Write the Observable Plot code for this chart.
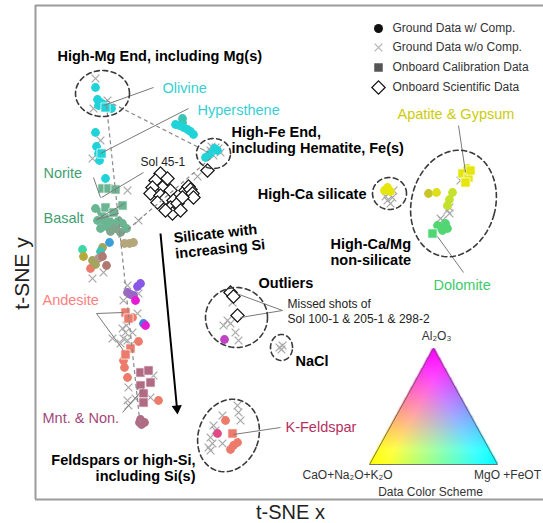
<!DOCTYPE html>
<html>
<head>
<meta charset="utf-8">
<script src="https://cdn.jsdelivr.net/npm/d3@7"></script>
<script src="https://cdn.jsdelivr.net/npm/@observablehq/plot@0.6"></script>
<style>
  html, body { margin: 0; padding: 0; background: #fff; }
  #chart { width: 543px; height: 523px; }
</style>
</head>
<body>
<div id="chart"></div>
<script>
// ---------------- DATA (t-SNE units) ----------------
// Ground data with composition: [tsneX, tsneY, compositionClass]
const groundComp = [
  // High-Mg end / olivine
  [9.5,-8.7,"cy"],[9.7,-9.9,"cy"],[10.0,-10.2,"cy"],[10.3,-10.4,"cy"],[9.8,-10.5,"cy"],[11.1,-10.8,"cy"],
  [9.5,-13.2,"cy"],[9.6,-14.6,"cy"],[9.8,-15.3,"cy"],[9.9,-16.0,"cy"],[10.5,-17.8,"cy"],
  // Hypersthene
  [18.2,-11.8,"tl"],[18.2,-12.2,"tl"],[17.5,-12.4,"cy"],[17.9,-12.5,"cy"],[18.3,-12.7,"cy"],
  [18.7,-12.9,"cy"],[19.0,-13.1,"cy"],[19.3,-13.4,"cy"],
  // High-Fe end
  [20.5,-15.7,"cy"],[20.9,-15.4,"cy"],[21.7,-15.0,"cy"],[21.4,-14.8,"cy"],
  // Norite / Basalt
  [9.5,-20.8,"gr"],[10.1,-21.2,"gr"],[9.7,-22.0,"gr"],[10.3,-22.0,"gr"],[10.8,-21.8,"gr"],
  [11.2,-22.3,"gr"],[11.8,-22.0,"gr"],[12.2,-22.3,"gr"],[11.5,-22.8,"gg"],[12.0,-23.2,"gg"],
  [12.6,-22.8,"gr"],[10.0,-22.8,"gr"],[10.6,-22.6,"gr"],[11.0,-23.1,"gg"],
  [10.9,-24.2,"bl"],[12.4,-24.3,"kh"],[12.9,-24.3,"kh"],[13.3,-24.2,"kh"],[10.2,-24.7,"ol"],
  [8.2,-24.9,"mi"],[8.3,-25.6,"yo2"],[10.0,-25.1,"tl"],[9.2,-26.0,"ol"],[9.8,-25.8,"pk"],
  [10.2,-25.6,"br"],[10.6,-26.5,"br"],[9.0,-26.8,"sa"],[9.5,-26.4,"ol"],
  // Silicates with increasing Si (purple group)
  [14.0,-28.3,"vi"],[13.7,-28.6,"vi"],[12.7,-29.2,"pu"],[13.0,-29.4,"pu"],[13.3,-29.5,"pu"],[13.5,-30.0,"mg"],
  [14.3,-32.3,"bl2"],[14.5,-32.5,"mg"],
  // Andesite
  [13.2,-31.7,"sa"],[13.8,-34.1,"sa"],[12.3,-36.0,"sa"],[12.4,-36.7,"sa"],[12.7,-37.7,"sa"],[15.8,-40.0,"sa"],
  // Montmorillonite & Nontronite
  [14.0,-41.9,"mv"],[14.4,-42.2,"mv"],[14.1,-42.4,"mv"],[13.9,-42.2,"mv"],
  // K-Feldspar
  [22.5,-42.0,"sa"],[21.7,-43.3,"rp"],[23.3,-44.5,"sa"],[23.7,-44.2,"sa"],[23.0,-44.9,"sa"],
  // Outliers
  [22.4,-33.9,"pu2"],
  // High-Ca silicate
  [38.7,-18.7,"ye"],[38.4,-19.0,"ye"],[39.0,-19.1,"ye"],
  // Apatite & Gypsum
  [46.7,-16.8,"ye"],[42.8,-19.3,"yo"],[43.6,-19.2,"ye2"],[45.2,-19.2,"li"],[44.9,-19.9,"li"],[44.7,-20.5,"li"],
  // Dolomite
  [43.7,-22.5,"dg"],[44.5,-22.3,"dg"],[44.2,-23.0,"dg"],[44.7,-22.8,"dg"],[44.0,-22.7,"dg"]
];

// Ground data without composition: [tsneX, tsneY]
const groundNoComp = [
  [9.5,-7.8],[9.3,-10.8],[10.7,-10.0],[10.0,-14.0],[9.2,-15.8],
  [12.7,-19.0],[13.8,-22.0],[19.7,-17.6],
  [21.0,-15.0],[21.5,-14.7],[22.0,-15.2],[20.7,-15.3],[21.3,-15.5],[21.8,-14.8],[21.1,-14.6],
  [9.2,-27.8],[10.3,-27.2],
  [12.7,-28.5],[13.8,-29.3],[12.3,-30.0],
  [13.7,-31.3],[12.2,-32.8],[12.5,-33.2],[13.2,-33.2],[12.3,-33.8],[11.2,-33.8],[12.7,-34.0],
  [12.6,-32.5],[13.0,-34.5],[12.0,-34.3],
  [12.8,-38.7],[13.5,-39.8],[12.8,-40.5],[15.3,-37.5],[15.0,-39.7],[12.7,-40.0],
  [23.7,-40.5],[23.8,-41.2],[22.2,-41.5],[21.3,-42.5],[24.0,-42.0],[21.0,-43.7],[21.2,-44.3],
  [21.0,-45.0],[22.2,-44.3],[21.5,-43.0],[20.8,-44.7],
  [23.2,-30.2],[22.3,-32.5],[23.0,-32.3],[23.5,-33.2],[23.8,-34.0],[22.7,-32.0],
  [27.9,-34.7],[28.2,-34.5],[28.1,-34.9],
  [38.8,-19.3],[39.2,-19.7],[38.7,-20.0],[39.0,-20.3],[38.5,-19.6],[39.3,-19.0],
  [46.0,-18.0],[44.9,-20.7],[44.7,-21.0],[44.2,-22.0],[44.0,-21.8],[44.9,-21.3]
];

// Onboard calibration data: [tsneX, tsneY, compositionClass]
const onboardCalib = [
  [10.5,-10.7,"cy"],[10.1,-15.3,"cy"],
  [10.2,-18.8,"gr"],[10.8,-18.8,"gr"],[11.5,-18.9,"gr"],[12.2,-20.5,"gr"],[10.5,-20.7,"gr"],[11.3,-21.2,"gr"],
  [12.5,-31.2,"sa"],[12.8,-31.8,"sa"],[13.0,-34.8,"sa"],[12.5,-35.4,"sa"],
  [14.0,-37.2,"mv"],[14.8,-37.0,"mv"],[14.0,-38.5,"mv"],[15.0,-38.2,"mv"],[14.3,-39.3,"mv"],[14.3,-40.2,"mv"],
  [23.2,-43.3,"sa"],
  [46.2,-17.3,"ye"],[46.8,-17.7,"ye"],[46.5,-18.2,"ye"],[47.0,-17.0,"ye"],
  [43.2,-23.3,"dg"]
];

// Onboard scientific data: [tsneX, tsneY]
const onboardSci = [
  [16.0,-17.3],[15.5,-18.0],[16.7,-17.8],[16.2,-18.7],[15.2,-18.7],[15.0,-19.3],[16.0,-19.5],
  [17.0,-19.0],[16.5,-19.8],[17.3,-20.0],[15.7,-20.2],[17.0,-20.7],[17.7,-20.3],[18.5,-19.0],
  [18.8,-18.6],[19.0,-18.9],[19.2,-19.3],[19.3,-19.7],[18.2,-19.7],[17.2,-21.3],[16.5,-21.0],[18.0,-21.0],
  [20.7,-17.0],
  [23.0,-29.2],[23.3,-29.6],[23.7,-31.5]
];

// Group outlines: [cx, cy, rx, ry, tiltDeg]
const groupOutlines = [
  [10.2,-9.3,2.7,2.3,0], [21.3,-15.3,1.7,1.5,0], [38.9,-19.3,1.7,1.6,0],
  [45.3,-20.3,4.2,5.4,-15], [22.8,-43.5,3.0,3.7,-20], [23.6,-31.7,3.1,3.0,0], [28.1,-34.7,1.1,1.3,0]
];

// Trend guides (dashed) and leader lines: [x1, y1, x2, y2]
const trendGuides = [[10.6,-10.0,20.8,-15.2],[10.6,-10.5,14.0,-42.8],[21.0,-15.8,11.8,-23.7]];
const leaders = [
  [15.3,-8.7,10.3,-10.5],[18.8,-10.8,10.0,-15.3],[14.3,-17.2,10.1,-19.7],[9.3,-17.7,10.0,-19.7],
  [9.6,-21.9,12.4,-20.3],[9.6,-21.9,11.8,-21.3],[9.6,-31.3,12.3,-31.2],[9.6,-31.3,12.3,-35.0],
  [12.2,-41.2,14.3,-38.8],[28.0,-42.7,23.3,-43.4],[45.8,-12.5,46.5,-17.2],[46.3,-27.2,43.7,-23.6],
  [28.2,-31.0,23.6,-29.3],[28.2,-31.0,24.0,-31.7]
];
const siArrow = [[16.0,-23.3,17.65,-40.8]];

// Text
const mineralLabels = [
  ["Olivine",16.2,-8.8,"cyT"],["Hypersthene",19.7,-11.0,"cyT"],["Norite",4.3,-17.3,"grT"],
  ["Basalt",4.3,-21.8,"grT"],["Andesite",4.2,-30.0,"saT"],["Mnt. & Non.",4.2,-41.8,"mvT"],
  ["K-Feldspar",28.5,-42.7,"kfT"],["Apatite & Gypsum",39.7,-11.4,"yeT"],["Dolomite",43.3,-28.5,"dgT"]
];
const groupLabels = [
  ["High-Mg End, including Mg(s)",5.7,-5.5,"start"],
  ["High-Fe End,\nincluding Hematite, Fe(s)",23.1,-13.95,"start"],
  ["High-Ca silicate",36.6,-19.3,"end"],
  ["High-Ca/Mg\nnon-silicate",33.0,-25.1,"start"],
  ["Outliers",25.8,-28.2,"start"],
  ["NaCl",29.5,-36.0,"start"],
  ["Feldspars or high-Si,\nincluding Si(s)",19.5,-46.7,"end"]
];
const trendLabel = [["Silicate with\nincreasing Si",17.4,-24.5]];
const noteLabels = [["Sol 45-1",14.0,-16.1],["Missed shots of\nSol 100-1 & 205-1 & 298-2",28.7,-31.05]];
const legendItems = [
  ["Ground Data w/ Comp.",37.8,-2.8,"dot"],["Ground Data w/o Comp.",37.8,-4.7,"cross"],
  ["Onboard Calibration Data",37.8,-6.7,"square"],["Onboard Scientific Data",37.8,-8.7,"diamond"]
];
// Ternary colour key: vertices (Al2O3 top, CaO+Na2O+K2O left, MgO+FeOT right)
const ternaryVertices = [[43.3,-34.8],[36.9,-46.4],[49.7,-46.4]];
const ternaryLabels = [["Al₂O₃",43.6,-33.6],["CaO+Na₂O+K₂O",34.7,-47.5],["MgO +FeOT",50.7,-47.5],["Data Color Scheme",43.0,-49.2]];
const axisTitles = [["t-SNE x",29.0,-51.2,0],["t-SNE y",2.2,-27.3,-90]];
const frameBox = {left: 3.5, top: -0.5, bottom: -49.9, right: 54.3};

// ---------------- STYLES ----------------
const compColor = {
  cy:"#1fd3d8", tl:"#3cc4b4", gr:"#6bb592", gg:"#7fa68c", bl:"#3a9ed8", kh:"#b5a77a", ol:"#a3a55e",
  mi:"#3fd6a8", yo2:"#b8a838", pk:"#b5958f", br:"#b07a72", sa:"#ec7b6c", vi:"#8a58e6", pu:"#9a64c8",
  mg:"#e41cd2", bl2:"#3a84e0", mv:"#b26b84", rp:"#e24a86", pu2:"#c043c6", ye:"#e6e60c", yo:"#c8c42a",
  ye2:"#dede1a", li:"#c4e22c", dg:"#52d674"
};
const textColor = {cyT:"#35d0d4", grT:"#3f9f72", saT:"#ff7f7f", mvT:"#a4487a", kfT:"#b5305c", yeT:"#cccc08", dgT:"#3ccc6a"};
const FONT = "'Liberation Sans', Arial, Helvetica, sans-serif";

function ellipsePoints(list) {
  const pts = [];
  list.forEach((e, id) => {
    const [cx, cy, rx, ry, tilt] = e;
    const a = tilt * Math.PI / 180, c = Math.cos(a), s = Math.sin(a);
    for (let i = 0; i <= 90; i++) {
      const t = i / 90 * 2 * Math.PI;
      pts.push({id, x: cx + rx * Math.cos(t) * c - ry * Math.sin(t) * s, y: cy + rx * Math.cos(t) * s + ry * Math.sin(t) * c});
    }
  });
  return pts;
}

function ternaryColor(x, y) {
  const [A, C, M] = ternaryVertices;
  const det = (C[1] - M[1]) * (A[0] - M[0]) + (M[0] - C[0]) * (A[1] - M[1]);
  const wa = ((C[1] - M[1]) * (x - M[0]) + (M[0] - C[0]) * (y - M[1])) / det;
  const wc = ((M[1] - A[1]) * (x - M[0]) + (A[0] - M[0]) * (y - M[1])) / det;
  const wm = 1 - wa - wc;
  if (wa < -0.01 || wc < -0.01 || wm < -0.01) return null;
  const r = 255 * Math.min(1, (wa + wc) * 1.15), g = 255 * Math.min(1, (wc + wm) * 1.15), b = 255 * Math.min(1, (wa + wm) * 1.15);
  return `rgb(${r|0},${g|0},${b|0})`;
}

const X = d => d[0], Y = d => d[1];
const labelOpts = {x: d => d[1], y: d => d[2], text: d => d[0], fontSize: 14.5, fontWeight: "bold", fill: "#000", lineHeight: 1.13};

const plot = Plot.plot({
  width: 543, height: 523, margin: 0,
  x: {domain: [0, 54.3], axis: null},
  y: {domain: [-52.3, 0], axis: null},
  color: {type: "identity"},
  style: {fontFamily: FONT, background: "#fff", overflow: "visible"},
  marks: [
    // frame
    Plot.ruleX([frameBox.left], {y1: frameBox.top, y2: frameBox.bottom, stroke: "#9c9c9c", strokeWidth: 2}),
    Plot.ruleY([frameBox.top, frameBox.bottom], {x1: frameBox.left, x2: frameBox.right, stroke: "#9c9c9c", strokeWidth: 2}),
    // ternary colour key
    Plot.raster({x1: 36.9, x2: 49.7, y1: -46.4, y2: -34.8, width: 128, height: 116, fill: (x, y) => ternaryColor(x, y), imageRendering: "auto"}),
    Plot.line([...ternaryVertices, ternaryVertices[0]], {x: X, y: Y, stroke: "#555", strokeWidth: 0.8}),
    // points
    Plot.dot(groundNoComp, {x: X, y: Y, symbol: "times", r: 3.6, stroke: "#a9a9a9", strokeWidth: 1.3}),
    Plot.dot(groundComp, {x: X, y: Y, r: 4.4, fill: d => compColor[d[2]], stroke: "none"}),
    Plot.dot(onboardCalib, {x: X, y: Y, symbol: "square", r: 5.2, fill: d => compColor[d[2]], stroke: "#ffffff", strokeWidth: 0.7}),
    Plot.dot(onboardSci, {x: X, y: Y, symbol: "diamond2", r: 6, fill: "white", stroke: "#111", strokeWidth: 1.2}),
    // guides
    Plot.link(trendGuides, {x1: d => d[0], y1: d => d[1], x2: d => d[2], y2: d => d[3], stroke: "#8a8a8a", strokeWidth: 1.2, strokeDasharray: "4,3"}),
    Plot.link(leaders, {x1: d => d[0], y1: d => d[1], x2: d => d[2], y2: d => d[3], stroke: "#7a7a7a", strokeWidth: 1}),
    Plot.line(ellipsePoints(groupOutlines), {x: "x", y: "y", z: "id", stroke: "#3a3a3a", strokeWidth: 1.6, strokeDasharray: "5,3.5", curve: "linear"}),
    // Si arrow
    Plot.link(siArrow, {x1: d => d[0], y1: d => d[1], x2: d => d[2], y2: d => d[3], stroke: "#000", strokeWidth: 2}),
    Plot.dot(siArrow, {x: d => d[2], y: d => d[3], symbol: "triangle", r: 3.8, fill: "#000", rotate: 174.6}),
    // legend
    Plot.dot(legendItems.filter(d => d[3] === "dot"), {x: d => d[1], y: d => d[2], r: 4.5, fill: "#111"}),
    Plot.dot(legendItems.filter(d => d[3] === "cross"), {x: d => d[1], y: d => d[2], symbol: "times", r: 3.6, stroke: "#b5b5b5", strokeWidth: 1.3}),
    Plot.dot(legendItems.filter(d => d[3] === "square"), {x: d => d[1], y: d => d[2], symbol: "square", r: 4.8, fill: "#555"}),
    Plot.dot(legendItems.filter(d => d[3] === "diamond"), {x: d => d[1], y: d => d[2], symbol: "diamond2", r: 6, fill: "white", stroke: "#111", strokeWidth: 1.2}),
    Plot.text(legendItems, {x: d => d[1] + 1.4, y: d => d[2], text: d => d[0], textAnchor: "start", fontSize: 12, fill: "#333"}),
    // text
    Plot.text(mineralLabels, {x: d => d[1], y: d => d[2], text: d => d[0], fill: d => textColor[d[3]], textAnchor: "start", fontSize: 14.5}),
    Plot.text(groupLabels.filter(d => d[3] === "start"), {...labelOpts, textAnchor: "start"}),
    Plot.text(groupLabels.filter(d => d[3] === "end"), {...labelOpts, textAnchor: "end"}),
    Plot.text(trendLabel, {x: d => d[1], y: d => d[2], text: d => d[0], textAnchor: "start", fontSize: 14.5, fontWeight: "bold", fill: "#000", lineHeight: 1.1, rotate: -6}),
    Plot.text(noteLabels, {x: d => d[1], y: d => d[2], text: d => d[0], textAnchor: "start", fontSize: 12, fill: "#222", lineHeight: 1.25}),
    Plot.text(ternaryLabels, {x: d => d[1], y: d => d[2], text: d => d[0], textAnchor: "middle", fontSize: 12, fill: "#333"}),
    Plot.text(axisTitles.filter(d => d[3] === 0), {x: d => d[1], y: d => d[2], text: d => d[0], fontSize: 20, fill: "#222"}),
    Plot.text(axisTitles.filter(d => d[3] !== 0), {x: d => d[1], y: d => d[2], text: d => d[0], fontSize: 21, fill: "#222", rotate: -90})
  ]
});
document.getElementById("chart").appendChild(plot);
</script>
</body>
</html>
